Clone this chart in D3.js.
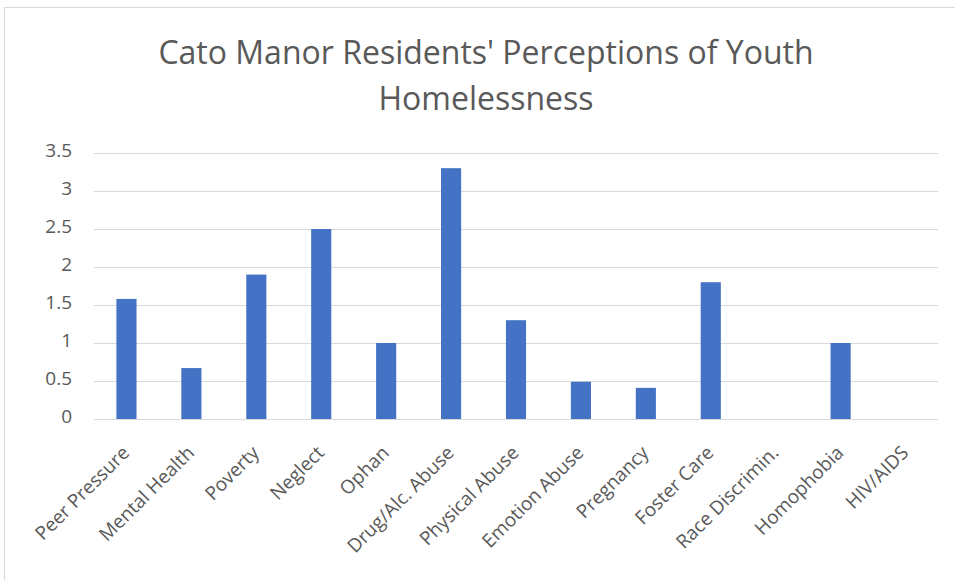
<!DOCTYPE html>
<html>
<head>
<meta charset="utf-8">
<script src="https://cdn.jsdelivr.net/npm/d3@7"></script>
<style>
  html, body { margin: 0; padding: 0; background: #fff; }
  svg { display: block; }
  text { font-family: "Open Sans", "Noto Sans", sans-serif; fill: #595959; }
</style>
</head>
<body>
<svg id="chart" width="955" height="580"></svg>
<script>
// Perceived causes of youth homelessness (mean rating)
const categories = [
  "Peer Pressure", "Mental Health", "Poverty", "Neglect", "Ophan",
  "Drug/Alc. Abuse", "Physical Abuse", "Emotion Abuse", "Pregnancy",
  "Foster Care", "Race Discrimin.", "Homophobia", "HIV/AIDS"
];
const values = [1.58, 0.67, 1.9, 2.5, 1.0, 3.3, 1.3, 0.49, 0.41, 1.8, 0, 1.0, 0];
const yTicks = [0, 0.5, 1, 1.5, 2, 2.5, 3, 3.5];
const titleLines = ["Cato Manor Residents' Perceptions of Youth", "Homelessness"];

const svg = d3.select("#chart");
const margin = { left: 94, right: 17, top: 153, bottom: 161 };
const W = 955, H = 580;

// chart frame
svg.append("rect")
  .attr("x", 4.5).attr("y", 7.5)
  .attr("width", W + 10).attr("height", H + 10)
  .attr("fill", "none").attr("stroke", "#d9d9d9");

const x = d3.scaleBand()
  .domain(categories)
  .range([margin.left, W - margin.right])
  .paddingInner(0.69).paddingOuter(0.345);

const y = d3.scaleLinear()
  .domain([0, 3.5])
  .range([H - margin.bottom, margin.top]);

// gridlines
svg.append("g")
  .selectAll("line")
  .data(yTicks)
  .join("line")
  .attr("x1", margin.left).attr("x2", W - margin.right)
  .attr("y1", d => Math.round(y(d)) + 0.5).attr("y2", d => Math.round(y(d)) + 0.5)
  .attr("stroke", "#d9d9d9").attr("stroke-width", 1);

// y axis labels
const yAxis = d3.axisLeft(y).tickValues(yTicks).tickSize(0).tickPadding(0)
  .tickFormat(d => String(d));
const gy = svg.append("g").attr("transform", `translate(${margin.left - 22},0)`).call(yAxis);
gy.select(".domain").remove();
gy.selectAll("text")
  .attr("font-size", 19)
  .attr("dy", "0.2em")
  .style("font-family", "'Open Sans', sans-serif")
  .attr("fill", "#595959");

// bars
svg.append("g")
  .selectAll("rect")
  .data(values)
  .join("rect")
  .attr("x", (d, i) => x(categories[i]))
  .attr("width", x.bandwidth())
  .attr("y", d => y(d))
  .attr("height", d => y(0) - y(d))
  .attr("fill", "#4472c4");

// x axis labels, rotated
const xAxis = d3.axisBottom(x).tickSize(0).tickPadding(0);
const gx = svg.append("g").attr("transform", `translate(0,${y(0)})`).call(xAxis);
gx.select(".domain").remove();
gx.selectAll("text")
  .attr("font-size", 19)
  .style("font-family", "'Open Sans', sans-serif")
  .attr("fill", "#595959")
  .attr("text-anchor", "end")
  .attr("dy", 0)
  .attr("transform", "translate(4,35) rotate(-45)");

// title
svg.append("g")
  .selectAll("text")
  .data(titleLines)
  .join("text")
  .attr("x", 486)
  .attr("y", (d, i) => 64 + i * 46)
  .attr("text-anchor", "middle")
  .attr("font-size", 32)
  .attr("fill", "#595959")
  .text(d => d);
</script>
</body>
</html>
